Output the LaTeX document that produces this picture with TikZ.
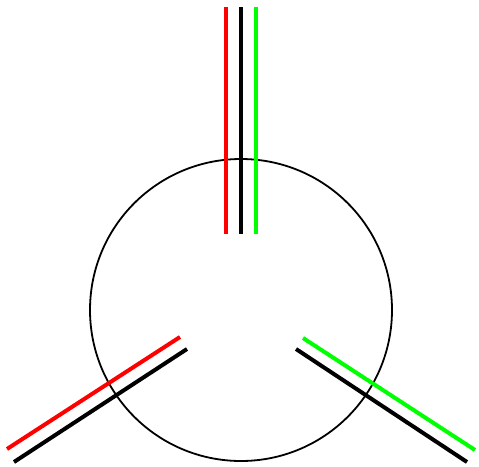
\documentclass[tikz,border=0pt]{standalone}
\begin{document}
\begin{tikzpicture}[x=1pt,y=-1pt,
  wire/.style={line width=4pt},
  ring/.style={line width=1.8pt}]
\useasboundingbox (0,0) rectangle (479,466);
\fill[white] (0,0) rectangle (479,466);
\draw[ring] (241,310) circle[radius=151];
% top group
\draw[wire,red] (226,7) -- (226,234);
\draw[wire,black] (241,7) -- (241,234);
\draw[wire,green] (256,7) -- (256,234);
% bottom-left group
\draw[wire,red] (7,449) -- (180,337);
\draw[wire,black] (14,462) -- (187,349);
% bottom-right group
\draw[wire,green] (303,338) -- (475,450);
\draw[wire,black] (296,349) -- (467,462);
\end{tikzpicture}
\end{document}
